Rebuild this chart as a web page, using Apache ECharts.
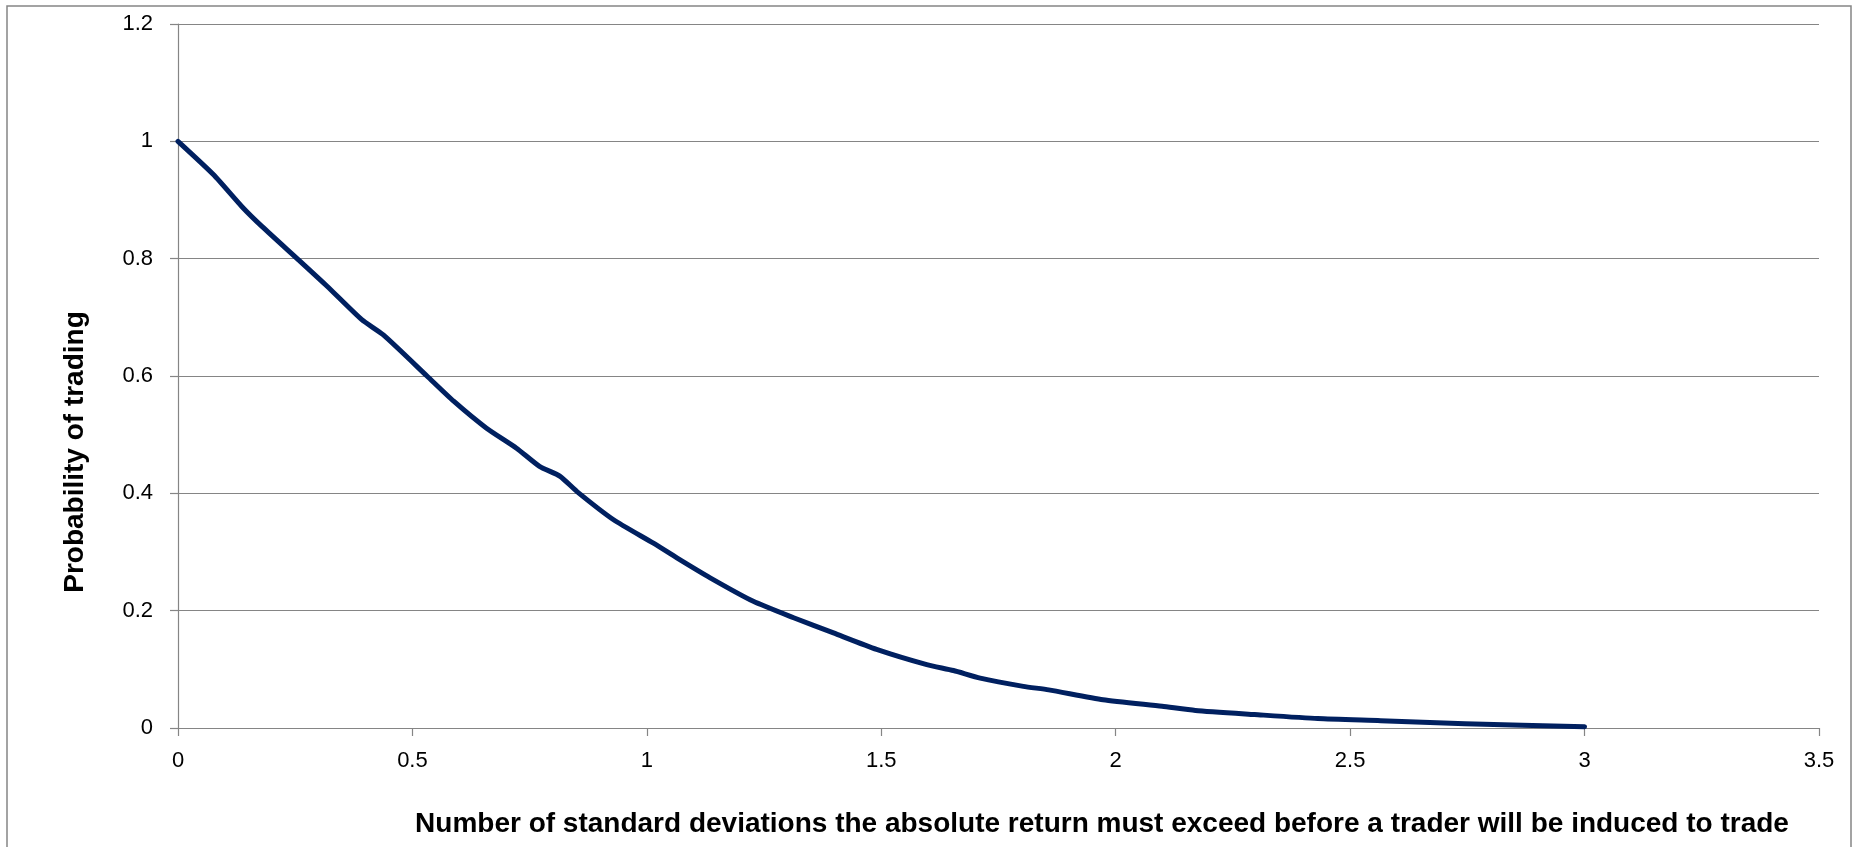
<!DOCTYPE html>
<html>
<head>
<meta charset="utf-8">
<script src="https://cdn.jsdelivr.net/npm/echarts@6/dist/echarts.min.js"></script>
<style>
html,body{margin:0;padding:0;background:#fff;}
#chart{width:1857px;height:847px;}
</style>
</head>
<body>
<div id="chart"></div>
<script>
// Data
const thresholdSD = [0, 0.076, 0.136, 0.179, 0.257, 0.318, 0.392, 0.438, 0.531, 0.588, 0.658, 0.722, 0.771, 0.815, 0.851, 0.929, 1.014, 1.064, 1.135, 1.227, 1.313, 1.398, 1.490, 1.597, 1.654, 1.711, 1.803, 1.857, 1.973, 2.099, 2.170, 2.296, 2.431, 2.565, 2.745, 3.0];
const probTrading = [1.0, 0.943, 0.889, 0.855, 0.798, 0.753, 0.696, 0.670, 0.600, 0.557, 0.511, 0.477, 0.446, 0.429, 0.403, 0.355, 0.315, 0.290, 0.256, 0.216, 0.188, 0.162, 0.134, 0.108, 0.098, 0.085, 0.071, 0.065, 0.048, 0.037, 0.030, 0.023, 0.016, 0.0125, 0.0073, 0.0022];
const xTicks = [0, 0.5, 1, 1.5, 2, 2.5, 3, 3.5];
const yTicks = [0, 0.2, 0.4, 0.6, 0.8, 1, 1.2];
const xTitle = 'Number of standard deviations the absolute return must exceed before a trader will be induced to trade';
const yTitle = 'Probability of trading';

const points = thresholdSD.map((x, i) => [x, probTrading[i]]);
const axisGray = '#858585';
const font = '"Liberation Sans", Arial, sans-serif';

const chart = echarts.init(document.getElementById('chart'), null, {renderer: 'canvas'});
chart.setOption({
  animation: false,
  backgroundColor: '#ffffff',
  grid: {left: 178, right: 38, top: 24, bottom: 119, containLabel: false},
  xAxis: {
    type: 'value',
    min: xTicks[0], max: xTicks[xTicks.length - 1], interval: 0.5,
    axisLine: {show: true, lineStyle: {color: axisGray, width: 1.2}},
    axisTick: {show: true, inside: false, length: 8, lineStyle: {color: axisGray, width: 1.2}},
    splitLine: {show: false},
    axisLabel: {color: '#000', fontFamily: font, fontSize: 22, margin: 22,
      formatter: v => String(v)}
  },
  yAxis: {
    type: 'value',
    min: yTicks[0], max: yTicks[yTicks.length - 1], interval: 0.2,
    axisLine: {show: true, lineStyle: {color: axisGray, width: 1.2}},
    axisTick: {show: true, inside: false, length: 8, lineStyle: {color: axisGray, width: 1.2}},
    splitLine: {show: true, lineStyle: {color: axisGray, width: 1.2}},
    axisLabel: {color: '#000', fontFamily: font, fontSize: 22, margin: 25,
      formatter: v => String(Math.round(v * 10) / 10)}
  },
  series: [{
    type: 'line',
    data: points,
    showSymbol: false,
    smooth: 0.2,
    lineStyle: {color: '#002060', width: 5, cap: 'round', join: 'round'},
    z: 5
  }],
  graphic: [
    {type: 'rect', shape: {x: 7, y: 6, width: 1844, height: 900},
      style: {fill: 'none', stroke: axisGray, lineWidth: 1.5}, silent: true},
    {type: 'text', x: 1102, y: 824,
      style: {text: xTitle, font: 'bold 28px ' + font, fill: '#000', textAlign: 'center', textVerticalAlign: 'middle'}},
    {type: 'text', x: 75, y: 452, rotation: Math.PI / 2,
      style: {text: yTitle, font: 'bold 28px ' + font, fill: '#000', textAlign: 'center', textVerticalAlign: 'middle'}}
  ]
});
</script>
</body>
</html>
